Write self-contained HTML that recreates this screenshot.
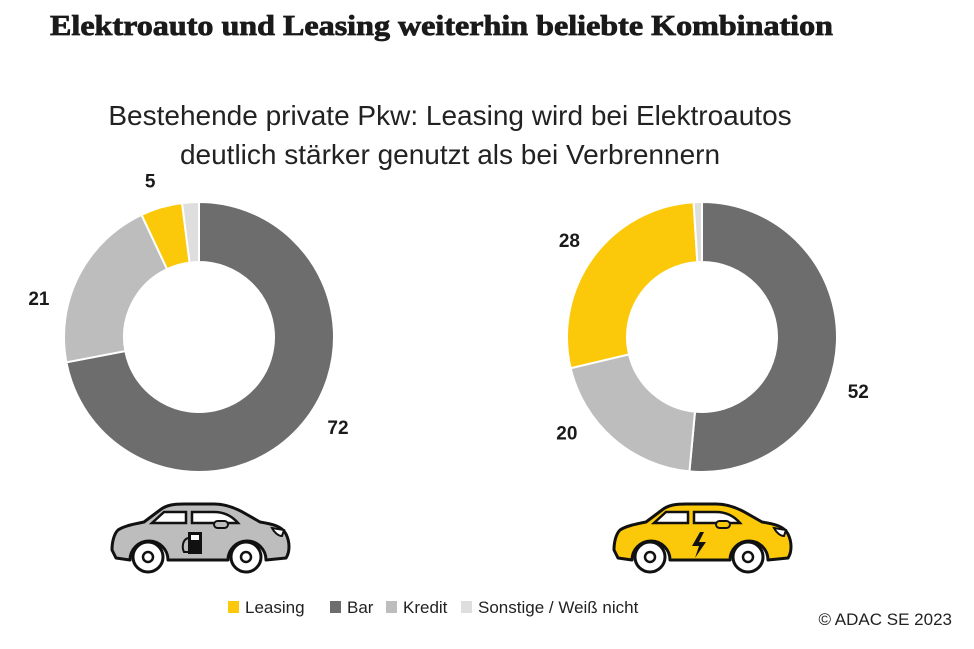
<!DOCTYPE html>
<html><head><meta charset="utf-8">
<style>
html,body{margin:0;padding:0;background:#fff;}
body{width:974px;height:649px;position:relative;overflow:hidden;font-family:"Liberation Sans",sans-serif;}
svg{position:absolute;left:0;top:0;}
</style></head>
<body>
<svg id="chart" width="974" height="649">
  <text x="50" y="35" font-family="Liberation Serif" font-weight="bold" font-size="29" fill="#1a1a1a" textLength="783" lengthAdjust="spacingAndGlyphs" stroke="#1a1a1a" stroke-width="0.8">Elektroauto und Leasing weiterhin beliebte Kombination</text>
  <text x="450" y="125" text-anchor="middle" font-size="28" fill="#222">Bestehende private Pkw: Leasing wird bei Elektroautos</text>
  <text x="450" y="164" text-anchor="middle" font-size="28" fill="#222">deutlich stärker genutzt als bei Verbrennern</text>
  <g id="donuts"></g>
  <g id="labels"></g>
  <g id="legend"></g>
  <text x="952" y="625" text-anchor="end" font-size="17" fill="#222">© ADAC SE 2023</text>
</svg>
<script>
const categories = ["Bar","Kredit","Leasing","Sonstige / Weiß nicht"];
const legendOrder = ["Leasing","Bar","Kredit","Sonstige / Weiß nicht"];
const colors = {"Leasing":"#fbc90a","Bar":"#6d6d6d","Kredit":"#bdbdbd","Sonstige / Weiß nicht":"#dedede"};
const verbrennerValues = [72,21,5,2];
const elektroValues = [52,20,28,1];
const verbrennerLabels = ["72","21","5",""];
const elektroLabels = ["52","20","28",""];
const verbrennerLabelShift = [-7,-13,-1,0];
const elektroLabelShift = [16,14,0,0];

const NS="http://www.w3.org/2000/svg";
function mk(tag,attrs,parent){const e=document.createElementNS(NS,tag);for(const k in attrs)e.setAttribute(k,attrs[k]);parent.appendChild(e);return e;}
function pt(cx,cy,r,a){return [cx+r*Math.sin(a),cy-r*Math.cos(a)];}
function donut(cx,cy,values,labels,shift,name){
  const g=document.getElementById("donuts"), lg=document.getElementById("labels");
  const total=values.reduce((a,b)=>a+b,0);
  const R=135,r=75;let a0=0;
  values.forEach((v,i)=>{
    const a1=a0+v/total*2*Math.PI;
    const large=(a1-a0)>Math.PI?1:0;
    const p1=pt(cx,cy,R,a0),p2=pt(cx,cy,R,a1),p3=pt(cx,cy,r,a1),p4=pt(cx,cy,r,a0);
    const p=mk("path",{d:`M${p1} A${R},${R} 0 ${large} 1 ${p2} L${p3} A${r},${r} 0 ${large} 0 ${p4} Z`,fill:colors[categories[i]],stroke:"#fff","stroke-width":2},g);
    
    
    if(labels[i]){
      const am=(a0+a1)/2+shift[i]*Math.PI/180;const lp=pt(cx,cy,165,am);
      const t=mk("text",{x:lp[0],y:lp[1]+8,"text-anchor":"middle","font-size":"19","font-weight":"bold",fill:"#1a1a1a"},lg);
      t.textContent=labels[i];
      
      
    }
    a0=a1;
  });
}
donut(199,337,verbrennerValues,verbrennerLabels,verbrennerLabelShift,"verbrenner");
donut(702,337,elektroValues,elektroLabels,elektroLabelShift,"elektro");

const lgd=document.getElementById("legend");
const legendX=[228,330,386,461];
legendOrder.forEach((c,i)=>{
  const s=mk("rect",{x:legendX[i],y:601,width:11,height:12,fill:colors[c]},lgd);
  
  
  const t=mk("text",{x:legendX[i]+17,y:613,"font-size":"17",fill:"#222"},lgd);
  t.textContent=c;
  
  
});

function car(x,y,fill,name,electric){
  const g=mk("g",{transform:`translate(${x},${y})`},document.getElementById("chart"));
  
  
  mk("path",{d:"M6,56 L2,48 C2,40 4,32 8,28 C14,24 24,22 34,20 L50,8 C56,3 64,2 74,2 L104,2 C116,2 126,6 136,12 L150,20 C162,22 172,24 176,32 C180,40 180,50 176,56 L156,58 A18,18 0 0 0 118,58 L58,58 A18,18 0 0 0 20,58 Z",fill:fill,stroke:"#111","stroke-width":3,"stroke-linejoin":"round"},g);
  mk("path",{d:"M42,21 L54,10 L76,10 L76,21 Z",fill:"#fff",stroke:"#111","stroke-width":2.5},g);
  mk("path",{d:"M82,10 L104,10 C114,10 122,14 128,21 L82,21 Z",fill:"#fff",stroke:"#111","stroke-width":2.5},g);
  mk("rect",{x:104,y:19,width:14,height:7,rx:3.5,fill:fill,stroke:"#111","stroke-width":2},g);
  mk("path",{d:"M162,26 L174,28 L172,34 C168,34 164,30 162,26 Z",fill:"#fff",stroke:"#111","stroke-width":2},g);
  [38,136].forEach(cx=>{
    mk("circle",{cx:cx,cy:55,r:15,fill:"#fff",stroke:"#111","stroke-width":3},g);
    mk("circle",{cx:cx,cy:55,r:5,fill:"#fff",stroke:"#111","stroke-width":2.5},g);
  });
  if(electric){
    mk("path",{d:"M88,30 L80,44 L87,44 L83,56 L94,40 L87,40 L92,30 Z",fill:"#111"},g);
  } else {
    mk("rect",{x:78,y:30,width:14,height:22,fill:"#111"},g);
    mk("rect",{x:81,y:33,width:8,height:5,fill:"#fff"},g);
    mk("path",{d:"M78,36 C72,38 72,46 74,50 L78,50",fill:"none",stroke:"#111","stroke-width":2},g);
  }
}
car(110,502,"#bdbdbd","verbrenner-car-icon",false);
car(612,502,"#fbc90a","elektro-car-icon",true);
</script>
</body></html>
